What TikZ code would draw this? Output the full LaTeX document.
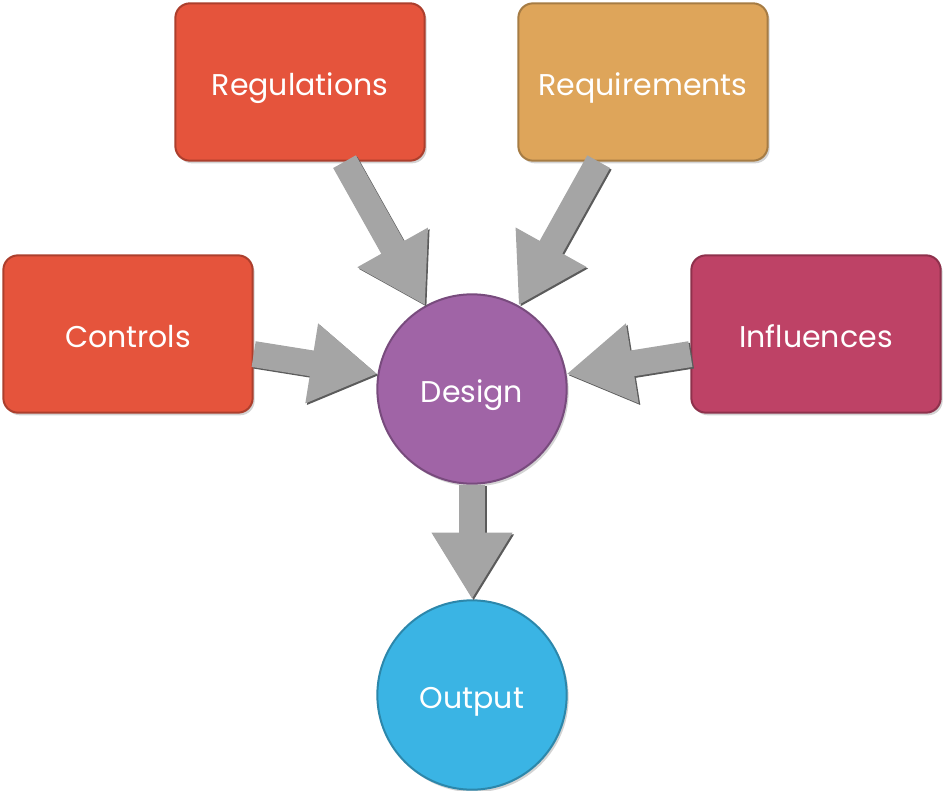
\documentclass[tikz,border=0pt]{standalone}
\usepackage{fontspec}
\setsansfont{Poppins}
\usetikzlibrary{arrows.meta,shadows}

\definecolor{regcol}{RGB}{229,84,60}
\definecolor{reqcol}{RGB}{222,165,90}
\definecolor{infcol}{RGB}{190,66,102}
\definecolor{descol}{RGB}{160,100,166}
\definecolor{outcol}{RGB}{58,180,228}
\definecolor{flowcol}{RGB}{165,165,165}

\tikzset{every picture/.style={line width=0.75pt}}
\tikzset{
	label text/.style={text=white, font=\sffamily\fontsize{22.5}{26}\selectfont,
		text height=20pt, text depth=0pt},
	box/.style={label text, fill=#1, draw=#1!75!black, line width=1.5pt,
		rounded corners=11pt, minimum width=187pt, minimum height=118pt,
		drop shadow={shadow xshift=1.5pt, shadow yshift=-2pt, opacity=0.35}},
	disc/.style={label text, circle, fill=#1, draw=#1!75!black, line width=1.5pt,
		minimum size=142pt, inner sep=0pt,
		drop shadow={shadow xshift=1.5pt, shadow yshift=-2pt, opacity=0.35}},
	flow/.style={draw=flowcol, line width=19.5pt,
		-{Triangle[width=57pt,length=50pt]},
		preaction={draw=flowcol!55!black, line width=19.5pt,
			-{Triangle[width=57pt,length=50pt]},
			transform canvas={shift={(1.2pt,-1.2pt)}}}}}

\begin{document}
\begin{tikzpicture}[x=0.75pt,y=0.75pt,yscale=-1,xscale=1]
	\useasboundingbox (0,0) rectangle (945,791);

	% Boxes
	\node[box=regcol] (reg) at (300,82) {Regulations};
	\node[box=reqcol] (req) at (643,82) {Requirements};
	\node[box=regcol] (ctl) at (128,334) {Controls};
	\node[box=infcol] (inf) at (816,334) {Influences};

	% Circles
	\node[disc=descol] (des) at (472,389) {Design};
	\node[disc=outcol] (out) at (472,695) {Output};

	% Arrows
	\draw[flow] (reg) -- (des);
	\draw[flow] (req) -- (des);
	\draw[flow] (ctl) -- (des);
	\draw[flow] (inf) -- (des);
	\draw[flow] (des) -- (out);

\end{tikzpicture}
\end{document}
